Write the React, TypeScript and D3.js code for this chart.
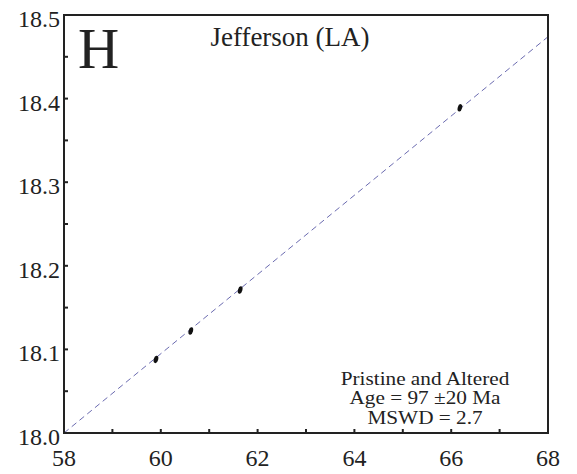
import React from "react";
import * as d3 from "d3";

const xTickValues = [58, 60, 62, 64, 66, 68];
const yTickValues = [18.0, 18.1, 18.2, 18.3, 18.4, 18.5];
const xMinorTicks = [59, 60, 61, 62, 63, 64, 65, 66, 67];
const yMinorTicks = [18.05, 18.1, 18.15, 18.2, 18.25, 18.3, 18.35, 18.4, 18.45];
const pointX = [59.9, 60.62, 61.64, 66.18];
const pointY = [18.088, 18.122, 18.171, 18.389];
const lineX = [58, 68];
const lineY = [18.0, 18.474];
const labelLines = ["Pristine and Altered", "Age = 97 ±20 Ma", "MSWD = 2.7"];

const W = 577;
const H = 474;
const left = 64, right = 548, top = 15, bottom = 433;

export default function App() {
  const x = d3.scaleLinear().domain([58, 68]).range([left, right]);
  const y = d3.scaleLinear().domain([18.0, 18.5]).range([bottom, top]);
  const line = d3.line<number>().x((d) => x(lineX[d])).y((d) => y(lineY[d]));
  const font = "'Liberation Serif', 'Times New Roman', serif";
  const lineBase = [385, 404, 424];
  return (
    <svg width={W} height={H} style={{ position: "absolute", left: 0, top: 0, background: "#fff" }}>
      <path d={line([0, 1]) || ""} fill="none" stroke="#6b6bb0" strokeWidth={1} strokeDasharray="6,4" />
      {pointX.map((px, i) => (
        <ellipse key={i} cx={x(px)} cy={y(pointY[i])} rx={2.2} ry={3.8}
          transform={`rotate(15 ${x(px)} ${y(pointY[i])})`} fill="#111" />
      ))}
      <rect x={left} y={top} width={right - left} height={bottom - top} fill="none" stroke="#222" strokeWidth={2} />
      {xMinorTicks.map((t) => (
        <line key={"xt" + t} x1={x(t)} x2={x(t)} y1={bottom} y2={bottom - 4} stroke="#222" strokeWidth={2} />
      ))}
      {yMinorTicks.map((t) => (
        <line key={"yt" + t} x1={left} x2={left + 4} y1={y(t)} y2={y(t)} stroke="#222" strokeWidth={2} />
      ))}
      {xTickValues.map((t) => (
        <text key={"xl" + t} x={x(t)} y={466} textAnchor="middle" fontFamily={font} fontSize={24} fill="#222">{t}</text>
      ))}
      {yTickValues.map((t) => (
        <text key={"yl" + t} x={60} y={y(t) + 12} textAnchor="end" fontFamily={font} fontSize={24} fill="#222">{t.toFixed(1)}</text>
      ))}
      <text x={78} y={68} fontFamily={font} fontSize={57} fill="#222">H</text>
      <text x={290} y={46} textAnchor="middle" fontFamily={font} fontSize={27} fill="#222">Jefferson (LA)</text>
      {labelLines.map((s, i) => (
        <text key={"ll" + i} transform={`translate(425,${lineBase[i]}) scale(1.18,1)`} textAnchor="middle"
          fontFamily={font} fontSize={18} fill="#222">{s}</text>
      ))}
    </svg>
  );
}
